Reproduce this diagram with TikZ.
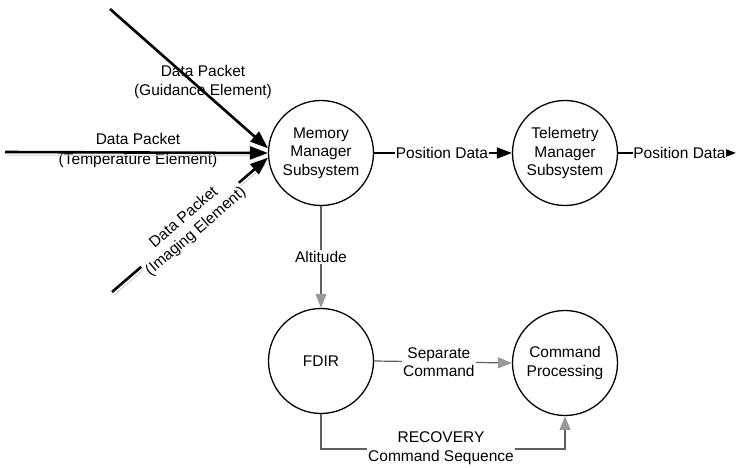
\documentclass[tikz,border=0pt]{standalone}
\usepackage{fontspec}
\setmainfont{Liberation Sans}
\usetikzlibrary{arrows.meta}
\begin{document}
\begin{tikzpicture}[x=1pt,y=-1pt,
  every node/.style={font=\fontsize{15.5}{18.5}\selectfont, align=center},
  proc/.style={draw, circle, line width=1.3pt, minimum size=105pt, inner sep=0pt},
  inflow/.style={line width=2.6pt, -{Triangle[length=18pt,width=13pt]},
    preaction={draw=gray!35, line width=1pt, -, shorten >=6pt,
      transform canvas={shift={(2pt,-3pt)}}}},
  outflow/.style={line width=1.8pt, -{Triangle[length=15pt,width=11pt]}},
  ctlflow/.style={draw=gray!75!black, line width=1.2pt,
    -{Triangle[length=14pt,width=11pt,color=gray!80]}},
  lbl/.style={fill=white, inner sep=1pt}
]
\useasboundingbox (0,0) rectangle (736,468);

% processes
\node[proc] (mm) at (321,153) {Memory\\Manager\\Subsystem};
\node[proc] (tm) at (565,153) {Telemetry\\Manager\\Subsystem};
\node[proc] (fd) at (321,361) {FDIR};
\node[proc] (cp) at (565,363) {Command\\Processing};

% free ends of the external flows
\coordinate (g0) at (110,9);
\coordinate (t0) at (5,152);
\coordinate (i0) at (112,292);
\coordinate (pout) at (736,153);
\coordinate (rc) at (0,449);

% incoming data packets
\node (gl) at (203,82) {Data Packet\\(Guidance Element)};
\node[font=\fontsize{15.5}{20}\selectfont] (tl) at (138,150) {Data Packet\\(Temperature Element)};
\draw[inflow] (g0) -- (mm.175);
\draw[inflow] (t0) -- (mm.west);
\draw[inflow] (i0) -- (mm.185)
  node[lbl, pos=0.5, sloped] (il) {Data Packet\\(Imaging Element)};

% position data flows
\draw[outflow] (mm.east) -- (tm.west)
  node[lbl, pos=0.5, xshift=-1pt] (p1) {Position Data};
\draw[outflow] (tm.east) -- (pout)
  node[lbl, pos=0.52, inner sep=0.5pt] (p2) {Position Data};

% control flows
\draw[ctlflow] (mm.south) -- (fd.north)
  node[lbl, pos=0.5] (al) {Altitude};
\draw[ctlflow] (fd.east) -- (cp.west)
  node[lbl, pos=0.47] (sc) {Separate\\Command};
\draw[ctlflow] (fd.south) -- (fd.south |- rc) -| (cp.south);
\node[lbl] (rl) at (441,448) {RECOVERY\\Command Sequence};
\end{tikzpicture}
\end{document}
